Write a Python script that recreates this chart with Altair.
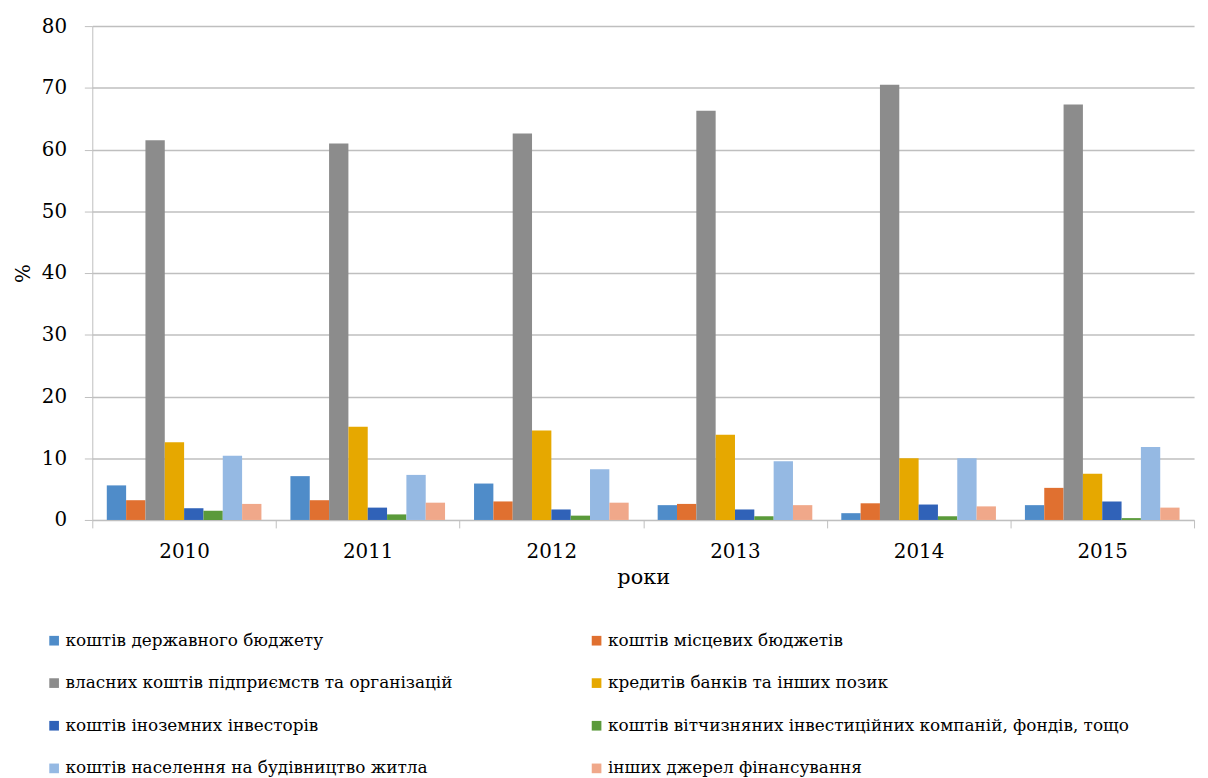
import altair as alt
import pandas as pd

years = ["2010", "2011", "2012", "2013", "2014", "2015"]
series = [
    "коштів державного бюджету",
    "коштів місцевих бюджетів",
    "власних коштів підприємств та організацій",
    "кредитів банків та інших позик",
    "коштів іноземних інвесторів",
    "коштів вітчизняних інвестиційних компаній, фондів, тощо",
    "коштів населення на будівництво житла",
    "інших джерел фінансування",
]
state_budget = [5.6, 7.1, 5.9, 2.4, 1.1, 2.4]
local_budget = [3.2, 3.2, 3.0, 2.6, 2.7, 5.2]
own_funds = [61.5, 61.0, 62.6, 66.3, 70.5, 67.3]
bank_credits = [12.6, 15.1, 14.5, 13.8, 10.0, 7.5]
foreign_inv = [1.9, 2.0, 1.7, 1.7, 2.5, 3.0]
domestic_funds = [1.5, 0.9, 0.7, 0.6, 0.6, 0.3]
population = [10.4, 7.3, 8.2, 9.5, 10.0, 11.8]
other_sources = [2.6, 2.8, 2.8, 2.4, 2.2, 2.0]
colors = ["#4F8CC9", "#E07030", "#8C8C8C", "#E6A800", "#3062B8", "#5A9A3A", "#95B9E3", "#F0A88A"]

values = [state_budget, local_budget, own_funds, bank_credits,
          foreign_inv, domestic_funds, population, other_sources]
rows = []
for s, vals in zip(series, values):
    for y, v in zip(years, vals):
        rows.append({"year": y, "series": s, "value": v})
df = pd.DataFrame(rows)

FONT = "DejaVu Serif"

chart = alt.Chart(df).mark_bar().encode(
    x=alt.X("year:N", sort=years,
            scale=alt.Scale(paddingInner=0, paddingOuter=0),
            axis=alt.Axis(title="роки", labelAngle=0, tickBand="extent",
                          tickSize=8, labelPadding=14, titlePadding=5,
                          labelFontSize=20, titleFontSize=21,
                          labelFont=FONT, titleFont=FONT,
                          domainColor="#BFBFBF", tickColor="#BFBFBF",
                          labelColor="#000", titleColor="#000",
                          titleFontWeight="normal", grid=False)),
    xOffset=alt.XOffset("series:N", sort=series,
                        scale=alt.Scale(paddingInner=0, paddingOuter=0.75)),
    y=alt.Y("value:Q",
            scale=alt.Scale(domain=[0, 80], nice=False),
            axis=alt.Axis(title="%", values=[0, 10, 20, 30, 40, 50, 60, 70, 80],
                          tickSize=8, labelPadding=18, titlePadding=8,
                          labelFontSize=20, titleFontSize=20,
                          labelFont=FONT, titleFont=FONT,
                          domain=True, domainColor="#BFBFBF",
                          tickColor="#BFBFBF", gridColor="#BFBFBF",
                          gridWidth=1.5, labelColor="#000", titleColor="#000",
                          titleFontWeight="normal")),
    color=alt.Color("series:N", sort=series,
                    scale=alt.Scale(domain=series, range=colors),
                    legend=alt.Legend(title=None, orient="none",
                                      direction="horizontal",
                                      legendX=-47, legendY=611,
                                      columns=2, columnPadding=136,
                                      rowPadding=25,
                                      symbolType="square", symbolSize=95,
                                      symbolStrokeWidth=0,
                                      labelFont=FONT,
                                      labelFontSize=17, labelColor="#000",
                                      labelLimit=700, labelOffset=3)),
).properties(
    width=1111, height=498,
).configure(
    font=FONT,
).configure_view(
    stroke=None,
)

chart.save("out.html", embed_options={"renderer": "svg", "actions": False})
